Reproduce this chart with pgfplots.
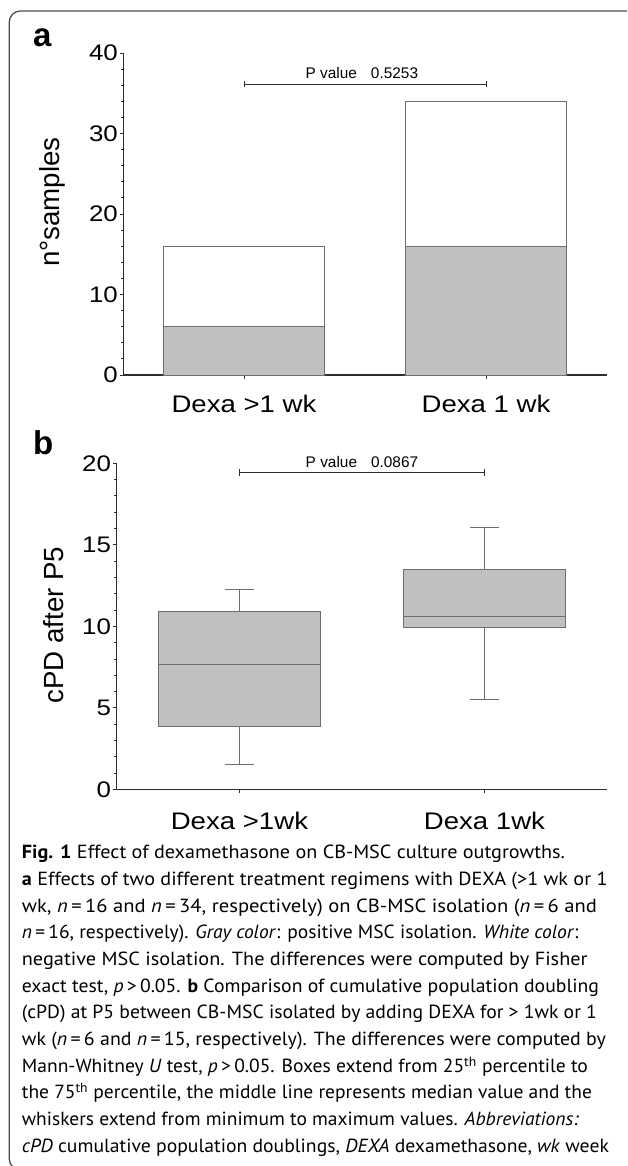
\documentclass[border=0pt]{standalone}
\usepackage{fontspec}
\setmainfont{Liberation Sans}
\newfontfamily\widesans[FakeStretch=1.15]{Liberation Sans}
\newfontfamily\capfont{PT Sans}
\usepackage{graphicx}
\usepackage{pgfplots}
\usepgfplotslibrary{statistics}
\pgfplotsset{compat=1.18}

\definecolor{barfill}{HTML}{C0C0C0}
\definecolor{edge}{HTML}{6E6E6E}
\definecolor{axisc}{HTML}{2E2E2E}

% one caption line: baseline y (pt), target width (pt), text
\newcommand\capline[3]{\node[anchor=base west, inner sep=0pt] at (21.7pt,#1pt)
  {\resizebox{#2pt}{\height}{\capfont\fontsize{19}{19}\selectfont #3}};}

% bracket with end ticks, between categories 0 and 1 at height #1
\newcommand\pbracket[1]{%
  \draw[axisc, line width=0.9pt] (axis cs:0,#1) -- (axis cs:1,#1);
  \draw[axisc, line width=0.9pt] ([yshift=-3.3pt]axis cs:0,#1) -- ([yshift=3.3pt]axis cs:0,#1);
  \draw[axisc, line width=0.9pt] ([yshift=-3.3pt]axis cs:1,#1) -- ([yshift=3.3pt]axis cs:1,#1);}

\pgfplotsset{
  panel/.style={
    scale only axis, clip=false,
    axis lines=left, axis line style={-, axisc, line width=1.2pt},
    tick style={axisc, line width=0.9pt}, tick align=outside,
    major tick length=4pt, minor tick length=2.5pt,
    minor y tick num=4, xtick={0,1},
    /pgf/number format/assume math mode=true,
    yticklabel style={font=\widesans\fontsize{22.5}{22.5}\selectfont, inner sep=1.5pt},
    xticklabel style={font=\widesans\fontsize{24}{24}\selectfont, inner sep=0pt},
    ylabel style={font=\fontsize{27.7}{27.7}\selectfont, anchor=center},
  },
}

\begin{document}
\begin{tikzpicture}
\useasboundingbox (0pt,0pt) rectangle (627pt,1166pt);
\clip (0pt,0pt) rectangle (627pt,1166pt);
\draw[axisc!85, line width=1.3pt, rounded corners=11pt] (9.3pt,-4pt) rectangle (660pt,1155pt);

% panel a
\node[font=\bfseries\fontsize{33}{33}\selectfont, anchor=base west, inner sep=0pt] at (33pt,1119.3pt) {a};
\begin{axis}[panel, at={(123.5pt,791pt)}, anchor=south west,
  width=483.5pt, height=322pt,
  xmin=-0.498, xmax=1.5, ymin=0, ymax=40, ytick={0,10,20,30,40},
  xticklabels={Dexa >1 wk, Dexa 1 wk}, xticklabel style={yshift=-15.5pt},
  ylabel={n°samples}, ylabel style={at={(axis description cs:-0.147,0.537)}},
  ybar stacked, bar width=0.665]
\addplot[fill=barfill, draw=edge, line width=0.9pt] coordinates {(0,6) (1,16)};
\addplot[fill=white, draw=edge, line width=0.9pt] coordinates {(0,10) (1,18)};
\pbracket{36.15}
\node[font=\fontsize{15.4}{15.4}\selectfont, anchor=base, inner sep=0pt]
  at ([yshift=5.7pt]axis cs:0.487,36.15) {P value\hspace{14pt}0.5253};
\end{axis}

% panel b
\node[font=\bfseries\fontsize{33}{33}\selectfont, anchor=base west, inner sep=0pt] at (33pt,711.5pt) {b};
\begin{axis}[panel, at={(116.7pt,376.5pt)}, anchor=south west,
  width=490.3pt, height=326.2pt,
  xmin=-0.501, xmax=1.5, ymin=0, ymax=20, ytick={0,5,10,15,20},
  xticklabels={Dexa >1wk, Dexa 1wk}, xticklabel style={yshift=-18.5pt},
  ylabel={cPD after P5}, ylabel style={at={(axis description cs:-0.128,0.504)}},
  boxplot/draw direction=y]
\addplot+[boxplot prepared={lower whisker=1.51, lower quartile=3.87, median=7.65,
  upper quartile=10.94, upper whisker=12.29, draw position=0,
  box extend=0.663, whisker extend=0.116},
  fill=barfill, draw=edge, line width=0.9pt, mark=none] coordinates {};
\addplot+[boxplot prepared={lower whisker=5.50, lower quartile=9.92, median=10.61,
  upper quartile=13.50, upper whisker=16.07, draw position=1,
  box extend=0.663, whisker extend=0.116},
  fill=barfill, draw=edge, line width=0.9pt, mark=none] coordinates {};
\pbracket{19.45}
\node[font=\fontsize{15.4}{15.4}\selectfont, anchor=base, inner sep=0pt]
  at ([yshift=5pt]axis cs:0.5,19.45) {P value\hspace{14pt}0.0867};
\end{axis}

% caption
\capline{307}{543}{\textbf{Fig. 1} Effect of dexamethasone on CB-MSC culture outgrowths.}
\capline{280.3}{585.6}{\textbf{a} Effects of two different treatment regimens with DEXA (>1 wk or 1}
\capline{253.7}{575}{wk, \textit{n}\,=\,16 and \textit{n}\,=\,34, respectively) on CB-MSC isolation (\textit{n}\,=\,6 and}
\capline{227}{556.6}{\textit{n}\,=\,16, respectively). \textit{Gray color}: positive MSC isolation. \textit{White color}:}
\capline{200.3}{565.6}{negative MSC isolation. The differences were computed by Fisher}
\capline{173.7}{577}{exact test, \textit{p}\,>\,0.05. \textbf{b} Comparison of cumulative population doubling}
\capline{147}{575}{(cPD) at P5 between CB-MSC isolated by adding DEXA for > 1wk or 1}
\capline{120.3}{584}{wk (\textit{n}\,=\,6 and \textit{n}\,=\,15, respectively). The differences were computed by}
\capline{93.7}{566}{Mann-Whitney \textit{U} test, \textit{p}\,>\,0.05. Boxes extend from 25\textsuperscript{th} percentile to}
\capline{67}{570}{the 75\textsuperscript{th} percentile, the middle line represents median value and the}
\capline{40.3}{557}{whiskers extend from minimum to maximum values. \textit{Abbreviations:}}
\capline{13.7}{587}{\textit{cPD} cumulative population doublings, \textit{DEXA} dexamethasone, \textit{wk} week}
\end{tikzpicture}
\end{document}
